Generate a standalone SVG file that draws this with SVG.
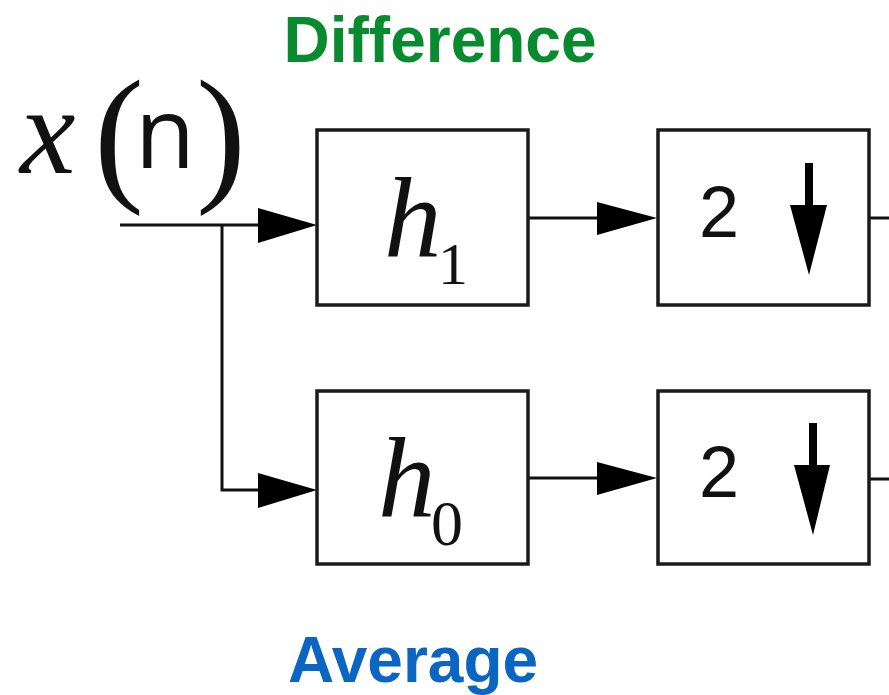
<svg xmlns="http://www.w3.org/2000/svg" width="889" height="695" viewBox="0 0 889 695">
<style>
.box{fill:#fff;stroke:#1a1a1a;stroke-width:3.5}
.wire{fill:none;stroke:#111;stroke-width:3}
.head{fill:#000}
.math{font-family:"Liberation Serif","DejaVu Serif",serif;fill:#111}
.it{font-style:italic}
.num{font-family:"Liberation Sans",Arial,sans-serif;fill:#111}
.lbl{font-family:"Liberation Sans",Arial,sans-serif;font-weight:bold;text-anchor:middle}
</style>
<rect width="889" height="695" fill="#fff"/>
<text class="lbl" x="440" y="62" font-size="64" fill="#088A2E">Difference</text>
<text class="lbl" x="413" y="682" font-size="64" fill="#0A66C2">Average</text>
<g id="input">
<text class="math it" x="20" y="173" font-size="125">x</text>
<text class="math" x="94" y="184" font-size="150">(</text>
<text x="135" y="168" font-size="98" font-family="'Open Sans','Noto Sans',sans-serif" fill="#111">n</text>
<text class="math" x="196" y="184" font-size="150">)</text>
</g>
<g id="connectors">
<path class="wire" d="M120,225 H262"/>
<polygon class="head" points="258,208 317,225 258,243"/>
<path class="wire" d="M222,225 V490 H262"/>
<polygon class="head" points="258,473 317,490 258,508"/>
<path class="wire" d="M528,218 H600"/>
<polygon class="head" points="597,202 657,218 597,235"/>
<path class="wire" d="M528,478 H600"/>
<polygon class="head" points="597,462 657,478 597,495"/>
<path class="wire" d="M869,218 H889"/>
<path class="wire" d="M869,479 H889"/>
</g>
<g id="h1">
<rect class="box" x="317" y="130" width="211" height="175"/>
<text class="math it" x="384" y="257" font-size="115">h</text>
<text class="math" x="438" y="284" font-size="60">1</text>
</g>
<g id="h0">
<rect class="box" x="317" y="391" width="211" height="173"/>
<text class="math it" x="378" y="517" font-size="115">h</text>
<text class="math" x="431" y="545" font-size="64">0</text>
</g>
<g id="down1">
<rect class="box" x="658" y="130" width="211" height="175"/>
<text class="num" x="699" y="237" font-size="72">2</text>
<line x1="809" y1="163" x2="809" y2="210" stroke="#000" stroke-width="8"/>
<polygon class="head" points="790,205 827,205 809,275"/>
</g>
<g id="down0">
<rect class="box" x="658" y="391" width="211" height="173"/>
<text class="num" x="699" y="497" font-size="72">2</text>
<line x1="813" y1="423" x2="813" y2="470" stroke="#000" stroke-width="8"/>
<polygon class="head" points="794,465 830,465 813,535"/>
</g>
</svg>
